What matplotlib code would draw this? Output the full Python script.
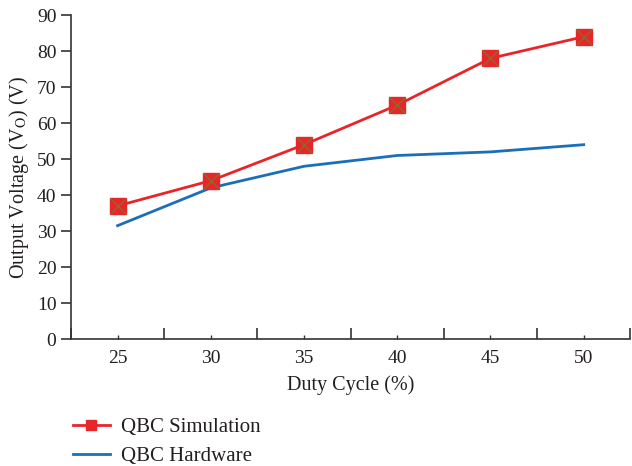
import matplotlib
matplotlib.use("Agg")
import matplotlib.pyplot as plt
import numpy as np

duty_cycle = ["25", "30", "35", "40", "45", "50"]
qbc_simulation = [37, 44, 54, 65, 78, 84]
qbc_hardware = [31.5, 42, 48, 51, 52, 54]
y_ticks = [0, 10, 20, 30, 40, 50, 60, 70, 80, 90]

plt.rcParams['font.family'] = ['Liberation Serif', 'DejaVu Serif']
plt.rcParams['mathtext.fontset'] = 'stix'

fig = plt.figure(figsize=(6.32, 4.66), dpi=100)
ax = fig.add_axes([0.1123, 0.2725, 0.885, 0.695])

x = np.arange(len(duty_cycle))
red = '#e8262a'
blue = '#1b6fb8'
ax.plot(x, qbc_simulation, color=red, lw=2.0, marker='s', ms=12,
        mfc=red, mec=red, label='QBC Simulation', zorder=3)
ax.plot(x, qbc_simulation, ls='none', marker='x', ms=11, mew=1.0,
        color='#8a6a2a', zorder=4)
ax.plot(x, qbc_hardware, color=blue, lw=2.0, label='QBC Hardware', zorder=2)

ax.set_xlim(-0.5, len(duty_cycle) - 0.5)
ax.set_ylim(0, 90)
ax.set_yticks(y_ticks)
ax.set_xticks(np.arange(len(duty_cycle) + 1) - 0.5)
ax.set_xticklabels([''] * (len(duty_cycle) + 1))
ax.set_xticks(x, minor=True)
ax.set_xticklabels(duty_cycle, minor=True)
ax.tick_params(axis='x', which='major', direction='in', length=8, width=1.2, color='#333333')
ax.tick_params(axis='x', which='minor', direction='in', length=3, width=1.0, color='#333333',
               labelsize=14, pad=8, labelcolor='#231f20')
ax.tick_params(axis='y', direction='out', length=7, width=1.2, color='#333333',
               labelsize=14, labelcolor='#231f20')
for s in ['top', 'right']:
    ax.spines[s].set_visible(False)
for s in ['left', 'bottom']:
    ax.spines[s].set_linewidth(1.2)
    ax.spines[s].set_color('#333333')

ax.set_xlabel('Duty Cycle (%)', fontsize=14.5, color='#231f20', labelpad=6)
ax.set_ylabel(r'Output Voltage (V$_{\mathrm{O}}$) (V)', fontsize=14.5, color='#231f20')

h, l = ax.get_legend_handles_labels()
fig.legend(h, l, loc='upper left', bbox_to_anchor=(0.096, 0.131), frameon=False,
           fontsize=15, handlelength=1.75, handletextpad=0.55, markerscale=0.55,
           labelspacing=0.45, labelcolor='#231f20', borderaxespad=0.2)

fig.savefig('out.png', dpi=100)
